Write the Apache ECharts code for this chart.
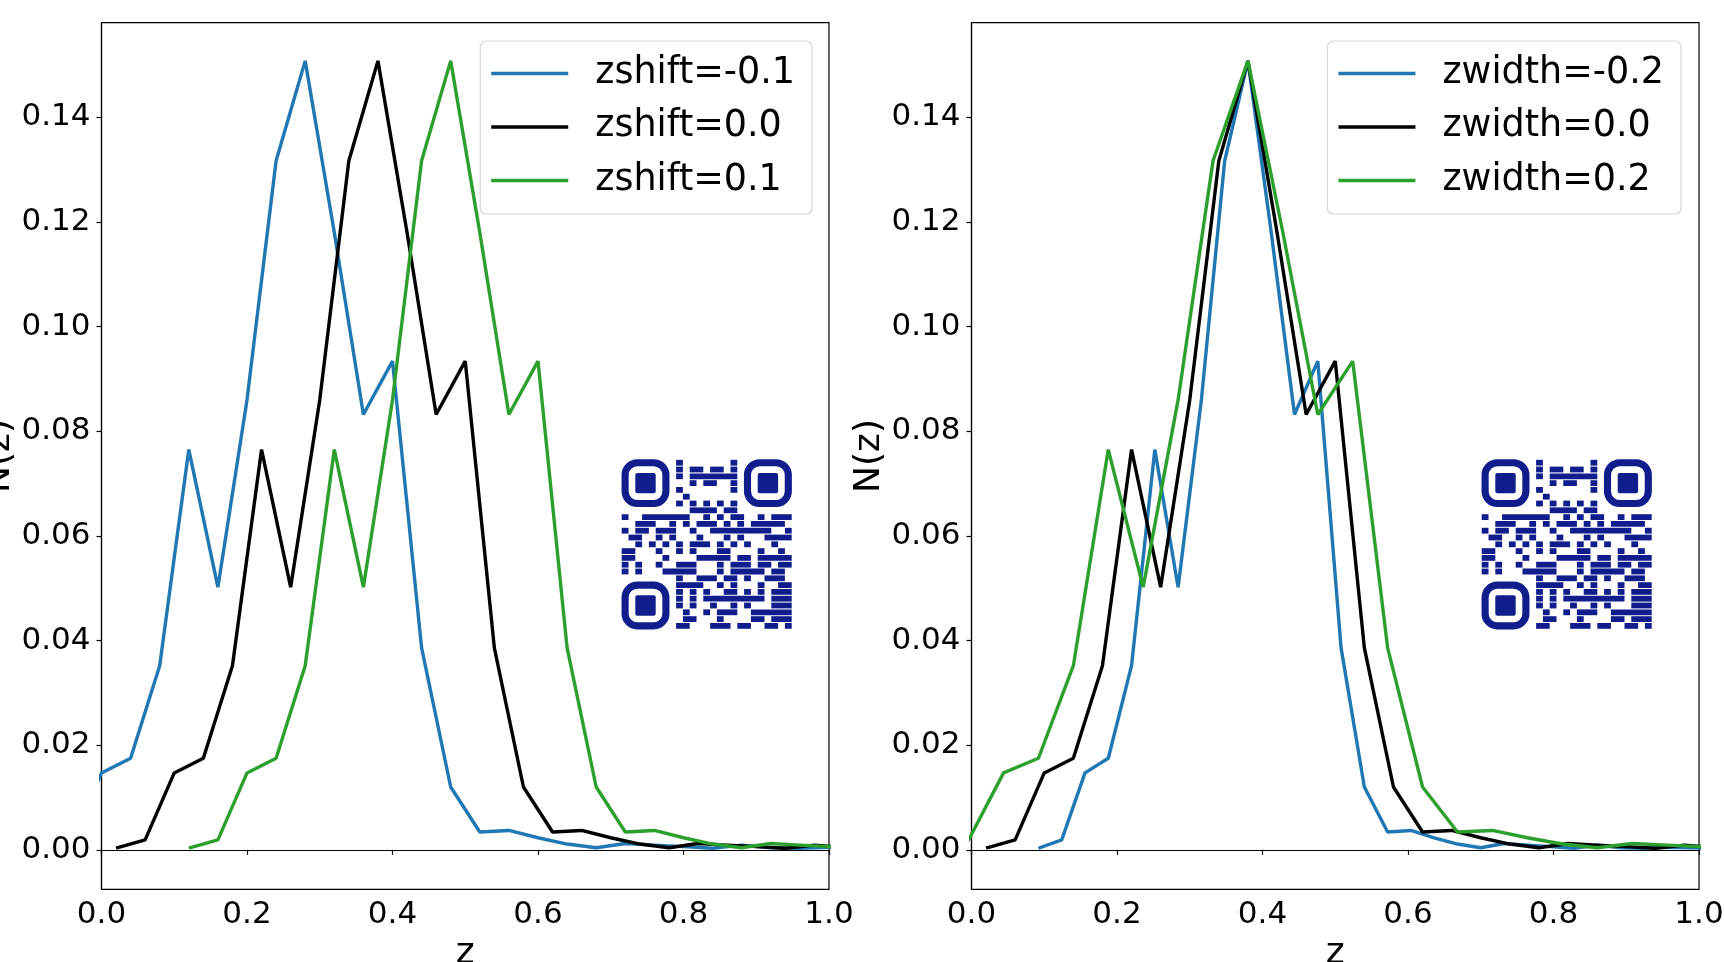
<!DOCTYPE html>
<html>
<head>
<meta charset="utf-8">
<title>N(z)</title>
<script src="https://cdn.jsdelivr.net/npm/echarts@6/dist/echarts.min.js"></script>
<style>
  html, body { margin: 0; padding: 0; background: #fff; }
  #main { width: 1724px; height: 962px; }
</style>
</head>
<body>
<div id="main"></div>
<script>
// base curve N(z)
const nz = [0.0003, 0.0019, 0.0147, 0.0175, 0.0352, 0.0765, 0.0502, 0.0860, 0.1317, 0.1508,
            0.1180, 0.0832, 0.0934, 0.0386, 0.0120, 0.0034, 0.0037, 0.0023, 0.0011, 0.0004,
            0.0012, 0.0009, 0.0006, 0.0003, 0.0009, 0.0004, 0.0003, 0.0005, 0.0004, 0.0003];

// z positions of each curve
const zBase = [0.02, 0.06, 0.10, 0.14, 0.18, 0.22, 0.26, 0.30, 0.34, 0.38,
               0.42, 0.46, 0.50, 0.54, 0.58, 0.62, 0.66, 0.70, 0.74, 0.78,
               0.82, 0.86, 0.90, 0.94, 0.98, 1.02, 1.06, 1.10, 1.14, 1.18];
const zShiftNeg = [-0.08, -0.04, 0.00, 0.04, 0.08, 0.12, 0.16, 0.20, 0.24, 0.28,
                   0.32, 0.36, 0.40, 0.44, 0.48, 0.52, 0.56, 0.60, 0.64, 0.68,
                   0.72, 0.76, 0.80, 0.84, 0.88, 0.92, 0.96, 1.00, 1.04, 1.08];
const zShiftPos = [0.12, 0.16, 0.20, 0.24, 0.28, 0.32, 0.36, 0.40, 0.44, 0.48,
                   0.52, 0.56, 0.60, 0.64, 0.68, 0.72, 0.76, 0.80, 0.84, 0.88,
                   0.92, 0.96, 1.00, 1.04, 1.08, 1.12, 1.16, 1.20, 1.24, 1.28];
const zWidthNeg = [0.092, 0.124, 0.156, 0.188, 0.220, 0.252, 0.284, 0.316, 0.348, 0.380,
                   0.412, 0.444, 0.476, 0.508, 0.540, 0.572, 0.604, 0.636, 0.668, 0.700,
                   0.732, 0.764, 0.796, 0.828, 0.860, 0.892, 0.924, 0.956, 0.988, 1.020];
const zWidthPos = [-0.052, -0.004, 0.044, 0.092, 0.140, 0.188, 0.236, 0.284, 0.332, 0.380,
                   0.428, 0.476, 0.524, 0.572, 0.620, 0.668, 0.716, 0.764, 0.812, 0.860,
                   0.908, 0.956, 1.004, 1.052, 1.100, 1.148, 1.196, 1.244, 1.292, 1.340];

const shiftNames = ['zshift=-0.1', 'zshift=0.0', 'zshift=0.1'];
const widthNames = ['zwidth=-0.2', 'zwidth=0.0', 'zwidth=0.2'];
const xTicks = [0, 0.2, 0.4, 0.6, 0.8, 1.0];
const yTicks = [0, 0.02, 0.04, 0.06, 0.08, 0.10, 0.12, 0.14];

// qr code pattern: dark runs per row [from, to] (finder squares drawn apart)
const qrRuns = [
  [[8, 8], [16, 16]],
  [[8, 8], [10, 11], [13, 14], [16, 16]],
  [[8, 8], [10, 16]],
  [[10, 10], [12, 13], [16, 16]],
  [[8, 8], [16, 16]],
  [[9, 9]],
  [[8, 8], [10, 10], [12, 12], [14, 14], [16, 16]],
  [[10, 13], [15, 16]],
  [[0, 0], [3, 9], [12, 12], [14, 14], [16, 17], [20, 20], [22, 24]],
  [[2, 4], [7, 7], [9, 9], [11, 13], [15, 15], [17, 17], [19, 23]],
  [[0, 0], [2, 3], [5, 7], [10, 10], [13, 21], [24, 24]],
  [[1, 2], [5, 5], [7, 7], [11, 11], [15, 15], [17, 17], [21, 24]],
  [[2, 2], [4, 4], [6, 6], [8, 8], [10, 12], [14, 14], [16, 16], [18, 18], [22, 22]],
  [[0, 1], [5, 5], [8, 8], [10, 10], [14, 15], [20, 20], [23, 23]],
  [[0, 1], [6, 6], [11, 15], [17, 18], [20, 24]],
  [[0, 0], [2, 2], [5, 5], [8, 10], [14, 14], [16, 18], [20, 21], [23, 24]],
  [[0, 0], [2, 2], [6, 10], [14, 14], [16, 20], [22, 23]],
  [[8, 8], [11, 13], [15, 16], [18, 18], [21, 23]],
  [[8, 11], [14, 14], [16, 16], [20, 20], [23, 24]],
  [[8, 8], [10, 10], [12, 12], [15, 16], [18, 18], [20, 20], [22, 24]],
  [[8, 8], [10, 10], [12, 20], [22, 24]],
  [[8, 8], [10, 10], [13, 13], [16, 16], [18, 18], [22, 24]],
  [[9, 9], [12, 12], [14, 16], [19, 24]],
  [[9, 10], [14, 14], [19, 20], [22, 24]],
  [[8, 9], [13, 15], [17, 18], [21, 22], [24, 24]]
];

const FONT = 'DejaVu Sans';
const QR_COLOR = '#111d8c';
const M = 6.8; // module size

function pairs(zs) {
  return zs.map((z, i) => [z, nz[i]]);
}

function qrGroup(x0, y0) {
  const children = [];
  // three finder squares
  [[0, 0], [18, 0], [0, 18]].forEach(([c, r]) => {
    children.push({
      type: 'rect',
      shape: { x: c * M + M / 2, y: r * M + M / 2, width: 6 * M, height: 6 * M, r: 1.8 * M },
      style: { fill: 'none', stroke: QR_COLOR, lineWidth: M * 1.05 }
    });
    children.push({
      type: 'rect',
      shape: { x: (c + 2) * M, y: (r + 2) * M, width: 3 * M, height: 3 * M, r: 0.3 * M },
      style: { fill: QR_COLOR }
    });
  });
  qrRuns.forEach((runs, r) => {
    runs.forEach(([a, b]) => {
      children.push({
        type: 'rect',
        shape: { x: a * M, y: r * M + 0.5, width: (b - a + 1) * M, height: M - 1 },
        style: { fill: QR_COLOR }
      });
    });
  });
  return { type: 'group', x: x0, y: y0, z: 50, silent: true, children };
}

const myChart = echarts.init(document.getElementById('main'));

function xAxisOpt(gridIndex) {
  return {
    type: 'value', gridIndex,
    min: 0, max: 1, interval: 0.2,
    name: 'z', nameLocation: 'middle', nameGap: 45,
    nameTextStyle: { fontSize: 36, fontFamily: FONT, color: '#000' },
    axisLine: { show: true, lineStyle: { color: '#000', width: 1.2 } },
    axisTick: { show: true, length: 5, lineStyle: { color: '#000', width: 1.2 }, customValues: xTicks },
    axisLabel: { fontSize: 31, fontFamily: FONT, color: '#000', margin: 10, customValues: xTicks,
                 formatter: v => v.toFixed(1) },
    splitLine: { show: false }
  };
}

function yAxisOpt(gridIndex) {
  return {
    type: 'value', gridIndex,
    min: -0.00755, max: 0.1581,
    name: 'N(z)', nameLocation: 'middle', nameGap: 80,
    nameTextStyle: { fontSize: 36, fontFamily: FONT, color: '#000' },
    axisLine: { show: true, lineStyle: { color: '#000', width: 1.2 } },
    axisTick: { show: true, length: 5, lineStyle: { color: '#000', width: 1.2 }, customValues: yTicks },
    axisLabel: { fontSize: 31, fontFamily: FONT, color: '#000', margin: 11, customValues: yTicks,
                 formatter: v => v.toFixed(2) },
    splitLine: { show: false }
  };
}

function lineSeries(name, zs, color, idx) {
  return {
    name, type: 'line', data: pairs(zs),
    xAxisIndex: idx, yAxisIndex: idx,
    symbol: 'none', showSymbol: false, clip: true,
    lineStyle: { color, width: 3.4 },
    itemStyle: { color }
  };
}

function legendOpt(names, right) {
  return {
    data: names, orient: 'vertical', right, top: 41,
    icon: 'rect', itemWidth: 77, itemHeight: 3.4, itemGap: 16.5,
    padding: [14, 17, 15, 11],
    backgroundColor: 'rgba(255,255,255,0.8)',
    borderColor: '#d6d6d6', borderWidth: 1.2, borderRadius: 6,
    textStyle: { fontSize: 36.5, fontFamily: FONT, color: '#000', lineHeight: 36, padding: [0, 0, 0, 22] }
  };
}

function gridOpt(left) {
  return {
    left, top: 22.7, width: 727.5, height: 866.6,
    containLabel: false, outerBoundsMode: 'none',
    show: true, borderColor: '#000', borderWidth: 1.2
  };
}

const option = {
  animation: false,
  backgroundColor: '#fff',
  grid: [gridOpt(101.5), gridOpt(971.5)],
  xAxis: [xAxisOpt(0), xAxisOpt(1)],
  yAxis: [yAxisOpt(0), yAxisOpt(1)],
  legend: [legendOpt(shiftNames, 912), legendOpt(widthNames, 43)],
  series: [
    lineSeries(shiftNames[0], zShiftNeg, '#1f77b4', 0),
    lineSeries(shiftNames[1], zBase, '#000000', 0),
    lineSeries(shiftNames[2], zShiftPos, '#2ca02c', 0),
    lineSeries(widthNames[0], zWidthNeg, '#1f77b4', 1),
    lineSeries(widthNames[1], zBase, '#000000', 1),
    lineSeries(widthNames[2], zWidthPos, '#2ca02c', 1)
  ],
  graphic: [qrGroup(621.7, 459.3), qrGroup(1481.7, 459.3)]
};

myChart.setOption(option);
window.addEventListener('resize', () => myChart.resize());
</script>
</body>
</html>
